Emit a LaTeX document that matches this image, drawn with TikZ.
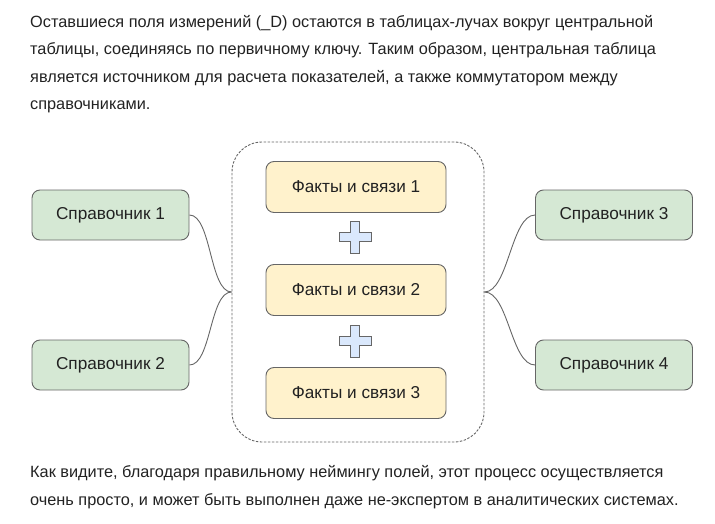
\documentclass[tikz,border=0pt]{standalone}
\usepackage{fontspec}
\setmainfont{Liberation Sans}
\usetikzlibrary{positioning}
\definecolor{refgreen}{HTML}{D5E8D4}
\definecolor{refyellow}{HTML}{FFF2CC}
\definecolor{refblue}{HTML}{DAE8FC}
\definecolor{refline}{HTML}{666666}
\definecolor{reftext}{HTML}{222222}
\tikzset{
  dictbox/.style={rectangle, draw=refline, fill=refgreen, line width=0.9pt, rounded corners=8pt, minimum width=157pt, minimum height=50pt, inner sep=0pt, text=reftext, font=\fontsize{17.2}{20}\selectfont},
  factbox/.style={rectangle, draw=refline, fill=refyellow, line width=0.9pt, rounded corners=8pt, minimum width=180pt, minimum height=51pt, inner sep=0pt, text=reftext, font=\fontsize{17.2}{20}\selectfont},
  corebox/.style={rectangle, draw=refline, dash pattern=on 2.5pt off 1.5pt, line width=0.9pt, rounded corners=30pt, minimum width=252pt, minimum height=300pt, inner sep=0pt},
  plusmark/.style={draw=refline, fill=refblue, line width=0.9pt},
  link/.style={draw=refline, line width=0.9pt},
  para/.style={anchor=base west, inner sep=0pt, text=reftext, font=\fontsize{16.3}{18}\selectfont}
}
\begin{document}
\begin{tikzpicture}[x=1pt, y=-1pt]
  \useasboundingbox (0,0) rectangle (715,524);
  % text above
  \node[para] (t1) at (30,27.5) {Оставшиеся поля измерений (\_D) остаются в таблицах-лучах вокруг центральной};
  \node[para] (t2) at (30,55) {таблицы, соединяясь по первичному ключу. Таким образом, центральная таблица};
  \node[para] (t3) at (30,82.5) {является источником для расчета показателей, а также коммутатором между};
  \node[para] (t4) at (30,110) {справочниками.};
  % central group
  \node[corebox] (core) at (358,292) {};
  \node[factbox] (f1) at (356,187) {Факты и связи 1};
  \node[factbox] (f2) at (356,290) {Факты и связи 2};
  \node[factbox] (f3) at (356,393) {Факты и связи 3};
  \foreach \py in {237,341}
    \draw[plusmark] (355,\py) ++(-4.5,-16) -- ++(9,0) -- ++(0,11.5) -- ++(11.5,0) -- ++(0,9)
      -- ++(-11.5,0) -- ++(0,11.5) -- ++(-9,0) -- ++(0,-11.5) -- ++(-11.5,0) -- ++(0,-9)
      -- ++(11.5,0) -- cycle;
  % dictionaries
  \node[dictbox] (d1) at (110.5,215) {Справочник 1};
  \node[dictbox] (d2) at (110.5,365) {Справочник 2};
  \node[dictbox] (d3) at (614,215) {Справочник 3};
  \node[dictbox] (d4) at (614,365) {Справочник 4};
  \draw[link] (d1.east) .. controls +(22,0) and +(-22,0) .. (core.west);
  \draw[link] (d2.east) .. controls +(22,0) and +(-22,0) .. (core.west);
  \draw[link] (core.east) .. controls +(24,0) and +(-24,0) .. (d3.west);
  \draw[link] (core.east) .. controls +(24,0) and +(-24,0) .. (d4.west);
  % text below
  \node[para] (t5) at (30,477.5) {Как видите, благодаря правильному неймингу полей, этот процесс осуществляется};
  \node[para] (t6) at (30,505.5) {очень просто, и может быть выполнен даже не-экспертом в аналитических системах.};
\end{tikzpicture}
\end{document}
